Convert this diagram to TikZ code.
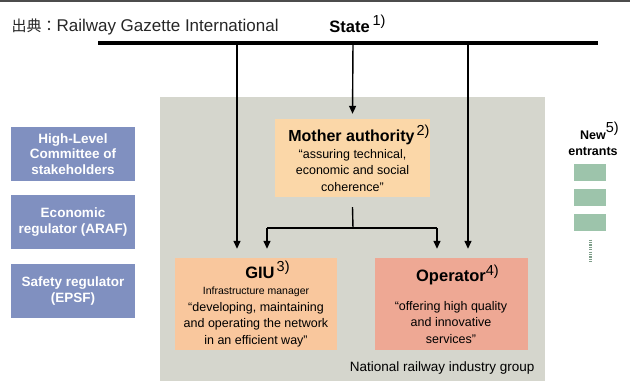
\documentclass[tikz,border=0pt]{standalone}
\usepackage{fontspec}
\setmainfont{Liberation Sans}
\newfontfamily\jpfont{Noto Sans CJK JP}
\usetikzlibrary{positioning, arrows.meta}

\definecolor{groupgray}{RGB}{213,214,205}
\definecolor{motherfill}{RGB}{251,215,168}
\definecolor{giufill}{RGB}{249,199,157}
\definecolor{opfill}{RGB}{238,168,148}
\definecolor{sidefill}{RGB}{128,144,192}
\definecolor{newfill}{RGB}{157,196,171}

\newcommand{\fnref}[1]{\rlap{\raisebox{6.5pt}{\mdseries\fontsize{14.5}{14.5}\selectfont #1}}}

\begin{document}
\begin{tikzpicture}[x=1pt, y=-1pt,
    side/.style={fill=sidefill, text=white, font=\bfseries\fontsize{13.5}{15.5}\selectfont,
      minimum width=124pt, minimum height=54pt, align=center, inner sep=0pt},
    body/.style={align=center, inner sep=0pt, font=\fontsize{12.5}{16.5}\selectfont},
    newbox/.style={fill=newfill, minimum width=32pt, minimum height=17pt, inner sep=0pt},
    link/.style={line width=1.4pt, -{Triangle[width=7pt,length=8pt]}}]
  \useasboundingbox (0,0) rectangle (630,386);
  \draw[line width=2pt, black!70] (0,1) -- (630,1);

  \node[anchor=west, text=black!85, font=\fontsize{17}{17}\selectfont] (src) at (8,27)
    {{\jpfont\fontsize{15}{15}\selectfont 出典：}Railway Gazette International};
  \node[font=\bfseries\fontsize{16.5}{16.5}\selectfont] (state) at (351,24) {State\,\fnref{1)}};
  \coordinate (barl) at (98,43);
  \coordinate (barr) at (598,43);
  \draw[line width=3.5pt] (barl) -- (barr);

  \node[fill=groupgray, minimum width=385pt, minimum height=284pt, inner sep=0pt] (group) at (352.5,239) {};
  \node[anchor=south east, font=\fontsize{13.5}{13.5}\selectfont] (grouplbl) at (538,378)
    {National railway industry group};

  \node[fill=motherfill, minimum width=155pt, minimum height=78pt, body] (mother) at (352.5,158)
    {{\bfseries\fontsize{16}{18}\selectfont Mother authority}\,\fnref{2)}\\
     “assuring technical,\\economic and social\\coherence”};
  \node[fill=giufill, minimum width=162pt, minimum height=92pt, body] (giu) at (256,304)
    {\hspace*{10pt}{\bfseries\fontsize{16.5}{18}\selectfont GIU}\,\fnref{3)}\\
     {\fontsize{10.5}{15}\selectfont Infrastructure manager}\\
     “developing, maintaining\\and operating the network\\in an efficient way”};
  \node[fill=opfill, minimum width=153pt, minimum height=92pt, body] (op) at (451,304)
    {{\bfseries\fontsize{16.5}{18}\selectfont Operator}\fnref{4)}\\[12pt]
     “offering high quality\\and innovative\\services”};

  \node[side] (hlc) at (73,154) {High-Level\\Committee of\\stakeholders};
  \node[side] (araf) at (73,222) {Economic\\regulator (ARAF)};
  \node[side] (epsf) at (73,291) {Safety regulator\\(EPSF)};

  \node[align=center, font=\bfseries\fontsize{12.5}{16}\selectfont] (newin) at (593,139)
    {New\fnref{5)}\\entrants};
  \node[newbox] (new1) at (590,172) {};
  \node[newbox, below=8pt of new1] (new2) {};
  \node[newbox, below=8pt of new2] (new3) {};
  \coordinate (dots) at (590,263);
  \draw[newfill!80!black, line width=3pt, dash pattern=on 1.2pt off 1.2pt] (new3.south) ++(0,8) -- (dots);

  \coordinate (s1) at (237,43);
  \coordinate (s2) at (353,43);
  \coordinate (s3) at (468,43);
  \draw[link, shorten >=9pt] (s1) -- (giu.north -| s1);
  \draw[link, shorten >=5pt] (s2) -- (mother.north);
  \draw[link, shorten >=9pt] (s3) -- (op.north -| s3);

  \coordinate (fork) at (353,228);
  \coordinate (forkl) at (267,228);
  \coordinate (forkr) at (437,228);
  \draw[line width=1.4pt] (mother.south) ++(0,10) -- (fork);
  \draw[line width=1.4pt] (forkl) -- (forkr);
  \draw[link, shorten >=9pt] (forkl) -- (giu.north -| forkl);
  \draw[link, shorten >=9pt] (forkr) -- (op.north -| forkr);
\end{tikzpicture}
\end{document}
